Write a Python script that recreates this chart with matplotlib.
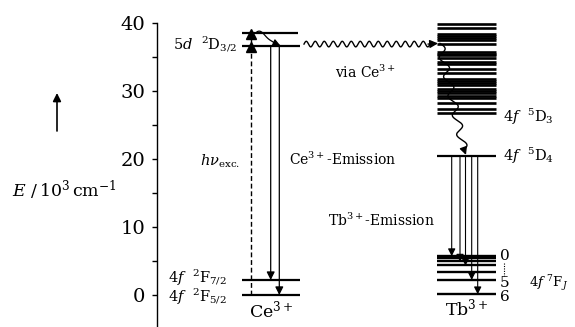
import numpy as np
import matplotlib
matplotlib.use("Agg")
import matplotlib.pyplot as plt

plt.rcParams['font.family'] = ['DejaVu Serif']
plt.rcParams['mathtext.fontset'] = 'dejavuserif'

# ---- data (energies in 10^3 cm^-1) ----
ce_levels = [0.0, 2.2, 36.6, 38.6]
tb_d_manifold = [39.8, 39.3, 38.4, 38.1, 37.8, 37.5, 36.9, 35.8, 35.5, 35.3, 34.8,
                 34.3, 33.9, 33.2, 32.7, 31.8, 31.5, 31.2, 30.9, 30.3, 30.0, 29.7,
                 29.3, 29.0, 28.2, 27.3, 26.7]
tb_5d4 = 20.5
tb_7f = [0.1, 2.2, 3.4, 4.4, 5.0, 5.4, 5.7]
tb_emission_targets = [5.7, 4.9, 4.3, 2.2, 0.1]
yticks_major = [0, 10, 20, 30, 40]
yticks_minor = [5, 15, 25, 35]

# ---- layout (pixel-like x units) ----
PX = 6.8  # px per 10^3 cm^-1
fig = plt.figure(figsize=(5.75, 3.27), dpi=100)
ax = fig.add_axes([0, 0, 1, 1])
ax.set_xlim(0, 575)
ax.set_ylim(-32 / PX, 295 / PX)
ax.patch.set_visible(False)
for s in ['top', 'right', 'bottom']:
    ax.spines[s].set_visible(False)
ax.spines['left'].set_position(('data', 157))
ax.spines['left'].set_bounds(-32 / PX, 40)
ax.spines['left'].set_linewidth(1.0)
ax.set_xticks([])
ax.set_yticks(yticks_major)
ax.set_yticks(yticks_minor, minor=True)
ax.tick_params(axis='y', which='both', direction='out', length=3.5, width=1.0,
               labelsize=14, pad=5)

k = 'black'
ce_x0, ce_x1 = 242, 300
tb_x0, tb_x1 = 437, 496

# Ce levels
for e in ce_levels:
    ax.plot([ce_x0, ce_x1 if e < 38 else 298], [e, e], color=k, lw=1.6, solid_capstyle='butt')

# excitation dashed line with arrow heads
xe = 250.5
ax.plot([xe, xe], [ce_levels[0], ce_levels[3]], color=k, lw=1.0, ls=(0, (3.5, 2)))
ax.plot([xe, xe], [ce_levels[2] - 0.2, ce_levels[3] - 0.2], ls='none', marker='^',
        ms=6.5, color=k)

# Ce emission arrows
for xa, tgt in [(270.7, ce_levels[1]), (279.3, ce_levels[0])]:
    ax.annotate('', xy=(xa, tgt), xytext=(xa, ce_levels[2]),
                arrowprops=dict(arrowstyle='-|>', lw=0.9, color=k,
                                mutation_scale=12, shrinkA=0, shrinkB=0))

# small relaxation wavy arrow on Ce
t = np.linspace(0, 1, 60)
xw = 257 + 18 * t
yw = ce_levels[3] + 0.1 - (ce_levels[3] - ce_levels[2] - 0.3) * t ** 1.3 + 0.35 * np.sin(2 * np.pi * 1.0 * t) * (1 - t)
ax.plot(xw, yw, color=k, lw=0.9)
ax.annotate('', xy=(280.5, ce_levels[2] + 0.05), xytext=(xw[-2], yw[-2]),
            arrowprops=dict(arrowstyle='-|>', lw=0.9, color=k, mutation_scale=11,
                            shrinkA=0, shrinkB=0))

# horizontal energy-transfer wave
ew = 36.9
xh = np.linspace(304, 430, 400)
yh = ew + (2.8 / PX) * np.sin(2 * np.pi * (xh - 304) / 9.0)
ax.plot(xh, yh, color=k, lw=1.0)
ax.annotate('', xy=(438, ew + 0.1), xytext=(428, ew),
            arrowprops=dict(arrowstyle='-|>', lw=1.0, color=k, mutation_scale=12,
                            shrinkA=0, shrinkB=0))

# Tb manifold
for e in tb_d_manifold:
    ax.plot([tb_x0, tb_x1], [e, e], color=k, lw=1.9, solid_capstyle='butt')
ax.plot([tb_x0, tb_x1], [tb_5d4, tb_5d4], color=k, lw=1.6, solid_capstyle='butt')
for e in tb_7f:
    ax.plot([tb_x0, tb_x1], [e, e], color=k, lw=1.7, solid_capstyle='butt')

# Tb relaxation wave
t = np.linspace(0, 1, 400)
y_start, y_end = 37.0, tb_5d4 + 0.9
yv = y_start + (y_end - y_start) * t
xv = 440 + 24 * t + 4.0 * np.sin(2 * np.pi * 5.5 * t)
ax.plot(xv, yv, color=k, lw=1.0)
ax.annotate('', xy=(466, tb_5d4 + 0.1), xytext=(xv[-1], yv[-1]),
            arrowprops=dict(arrowstyle='-|>', lw=1.0, color=k, mutation_scale=11,
                            shrinkA=0, shrinkB=0))

# Tb emission arrows
for xa, tgt in zip([451.7, 460.0, 465.5, 471.7, 477.7], tb_emission_targets):
    ax.annotate('', xy=(xa, tgt), xytext=(xa, tb_5d4),
                arrowprops=dict(arrowstyle='-|>', lw=0.8, color=k,
                                mutation_scale=11, shrinkA=0, shrinkB=0))

# ---- texts ----
fs = 10.5
ax.text(237, ce_levels[2] + 0.2, r'$5d\ \ {}^2\mathrm{D}_{3/2}$', ha='right', va='center', fontsize=fs)
ax.text(168, ce_levels[1] + 0.4, r'$4f\ \ {}^2\mathrm{F}_{7/2}$', ha='left', va='center', fontsize=fs)
ax.text(168, ce_levels[0] - 0.2, r'$4f\ \ {}^2\mathrm{F}_{5/2}$', ha='left', va='center', fontsize=fs)
ax.text(240, 19.6, r'$h\nu_{\mathrm{exc.}}$', ha='right', va='center', fontsize=10.5)
ax.text(335, 32.8, r'via Ce$^{3+}$', ha='left', va='center', fontsize=10)
ax.text(289, 19.9, r'Ce$^{3+}$-Emission', ha='left', va='center', fontsize=10)
ax.text(328, 11.0, r'Tb$^{3+}$-Emission', ha='left', va='center', fontsize=10)
ax.text(503, 26.2, r'$4f\ \ {}^5\mathrm{D}_3$', ha='left', va='center', fontsize=fs)
ax.text(503, 20.4, r'$4f\ \ {}^5\mathrm{D}_4$', ha='left', va='center', fontsize=fs)
ax.text(500, 5.7, '0', ha='left', va='center', fontsize=11)
ax.text(500, 1.8, '5', ha='left', va='center', fontsize=11)
ax.text(500, -0.3, '6', ha='left', va='center', fontsize=11)
ax.plot([504, 504], [4.7, 2.8], color=k, lw=0.8, ls=(0, (1, 1.2)))
ax.text(529, 1.8, r'$4f\ {}^7\mathrm{F}_J$', ha='left', va='center', fontsize=9.5)
ax.text(271, -2.3, r'Ce$^{3+}$', ha='center', va='center', fontsize=12.5)
ax.text(467, -2.0, r'Tb$^{3+}$', ha='center', va='center', fontsize=12.5)
ax.text(12, (295 - 190) / PX, r'$E\ /\,10^3\,\mathrm{cm}^{-1}$', ha='left', va='center', fontsize=12.5)
ax.annotate('', xy=(57, (295 - 93) / PX), xytext=(57, (295 - 131) / PX),
            arrowprops=dict(arrowstyle='-|>', lw=1.2, color=k, mutation_scale=12,
                            shrinkA=0, shrinkB=0))

fig.savefig('out.png', dpi=100)
